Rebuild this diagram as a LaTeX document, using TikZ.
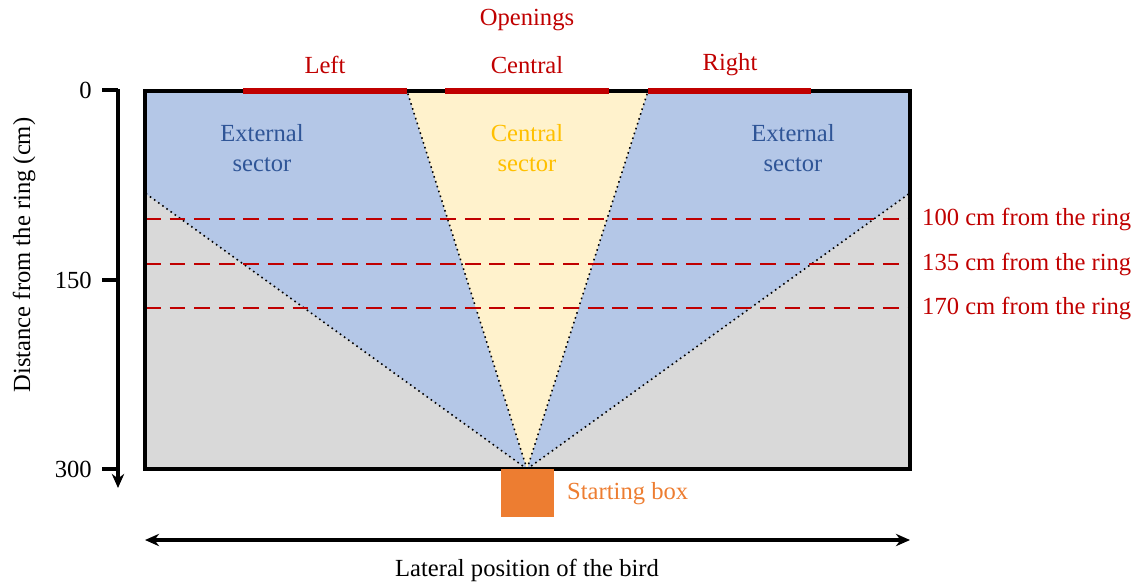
\documentclass[tikz,border=0pt]{standalone}
\usepackage{fontspec}
\setmainfont{Liberation Serif}
\usepackage{xcolor}
\usetikzlibrary{arrows.meta, positioning}
\definecolor{extblue}{HTML}{B4C7E7}
\definecolor{cenyellow}{HTML}{FFF2CC}
\definecolor{floorgray}{HTML}{D9D9D9}
\definecolor{openred}{HTML}{C00000}
\definecolor{textblue}{HTML}{2F5597}
\definecolor{textgold}{HTML}{FFC000}
\definecolor{boxorange}{HTML}{ED7D31}
\tikzset{
  lbl/.style     = {font=\fontsize{14}{17}\selectfont, align=center},
  redlbl/.style  = {lbl, text=openred},
  opening/.style = {openred, line width=3.6pt},
  sector/.style  = {draw=black, dotted, line width=0.9pt},
  ringline/.style= {openred, dash pattern=on 9pt off 5pt, line width=0.9pt},
  axis/.style    = {line width=2pt},
  arr/.style     = {-{Stealth[length=8pt, width=7pt]}, line width=2pt},
}

\begin{document}
\begin{tikzpicture}[x=0.02cm, y=-0.02cm]
\useasboundingbox (0,0) rectangle (1133,583);

% ── Arena corners and apex ───────────────────────────────
\coordinate (tl)   at (145,91);
\coordinate (tr)   at (910,91);
\coordinate (bl)   at (145,469);
\coordinate (br)   at (910,469);
\coordinate (apex) at (527,469);
\coordinate (lo)   at (407,91);
\coordinate (ro)   at (648,91);
\coordinate (lw)   at (145,193);
\coordinate (rw)   at (910,193);

% ── Sectors ──────────────────────────────────────────────
\fill[floorgray] (tl) rectangle (br);
\fill[extblue]   (tl) -- (lo) -- (apex) -- (lw) -- cycle;
\fill[extblue]   (tr) -- (ro) -- (apex) -- (rw) -- cycle;
\fill[cenyellow] (lo) -- (ro) -- (apex) -- cycle;
\draw[sector] (apex) -- (lo);
\draw[sector] (apex) -- (ro);
\draw[sector] (apex) -- (lw);
\draw[sector] (apex) -- (rw);

% ── Distance lines ───────────────────────────────────────
\node[redlbl, anchor=west] (d100) at (916,219) {100 cm from the ring};
\node[redlbl, anchor=west] (d135) at (916,264) {135 cm from the ring};
\node[redlbl, anchor=west] (d170) at (916,308) {170 cm from the ring};
\draw[ringline] (145,219) -- (910,219);
\draw[ringline] (145,264) -- (910,264);
\draw[ringline] (145,308) -- (910,308);

% ── Arena border ─────────────────────────────────────────
\draw[axis] (tl) rectangle (br);

% ── Openings ─────────────────────────────────────────────
\draw[opening] (243,91) -- (407,91);
\draw[opening] (445,91) -- (609,91);
\draw[opening] (648,91) -- (811,91);
\node[redlbl] (left)    at (325,65)  {Left};
\node[redlbl] (central) at (527,65)  {Central};
\node[redlbl] (right)   at (730,65)  {Right};
\node[redlbl] (open)    at (527,20)  {Openings};

% ── Sector labels ────────────────────────────────────────
\node[lbl, text=textblue] (extl) at (262,148) {External\\sector};
\node[lbl, text=textgold] (cent) at (527,148) {Central\\sector};
\node[lbl, text=textblue] (extr) at (793,148) {External\\sector};

% ── Starting box ─────────────────────────────────────────
\fill[boxorange] (501,469) rectangle (554,517);
\node[lbl, text=boxorange, anchor=west] (start) at (561,494) {Starting box};

% ── Distance axis ────────────────────────────────────────
\draw[arr] (118,89) -- (118,488);
\draw[axis] (102,90)  -- (118,90);
\draw[axis] (102,280) -- (118,280);
\draw[axis] (102,469) -- (118,469);
\node[lbl, anchor=east] (t0)   at (98,90)  {0};
\node[lbl, anchor=east] (t150) at (98,280) {150};
\node[lbl, anchor=east] (t300) at (98,469) {300};
\node[lbl, rotate=90] (ylab) at (24,255) {Distance from the ring (cm)};

% ── Lateral axis ─────────────────────────────────────────
\draw[{Stealth[length=8pt, width=7pt]}-{Stealth[length=8pt, width=7pt]}, line width=2pt] (145,540) -- (910,540);
\node[lbl] (xlab) at (527,570) {Lateral position of the bird};
\end{tikzpicture}
\end{document}
